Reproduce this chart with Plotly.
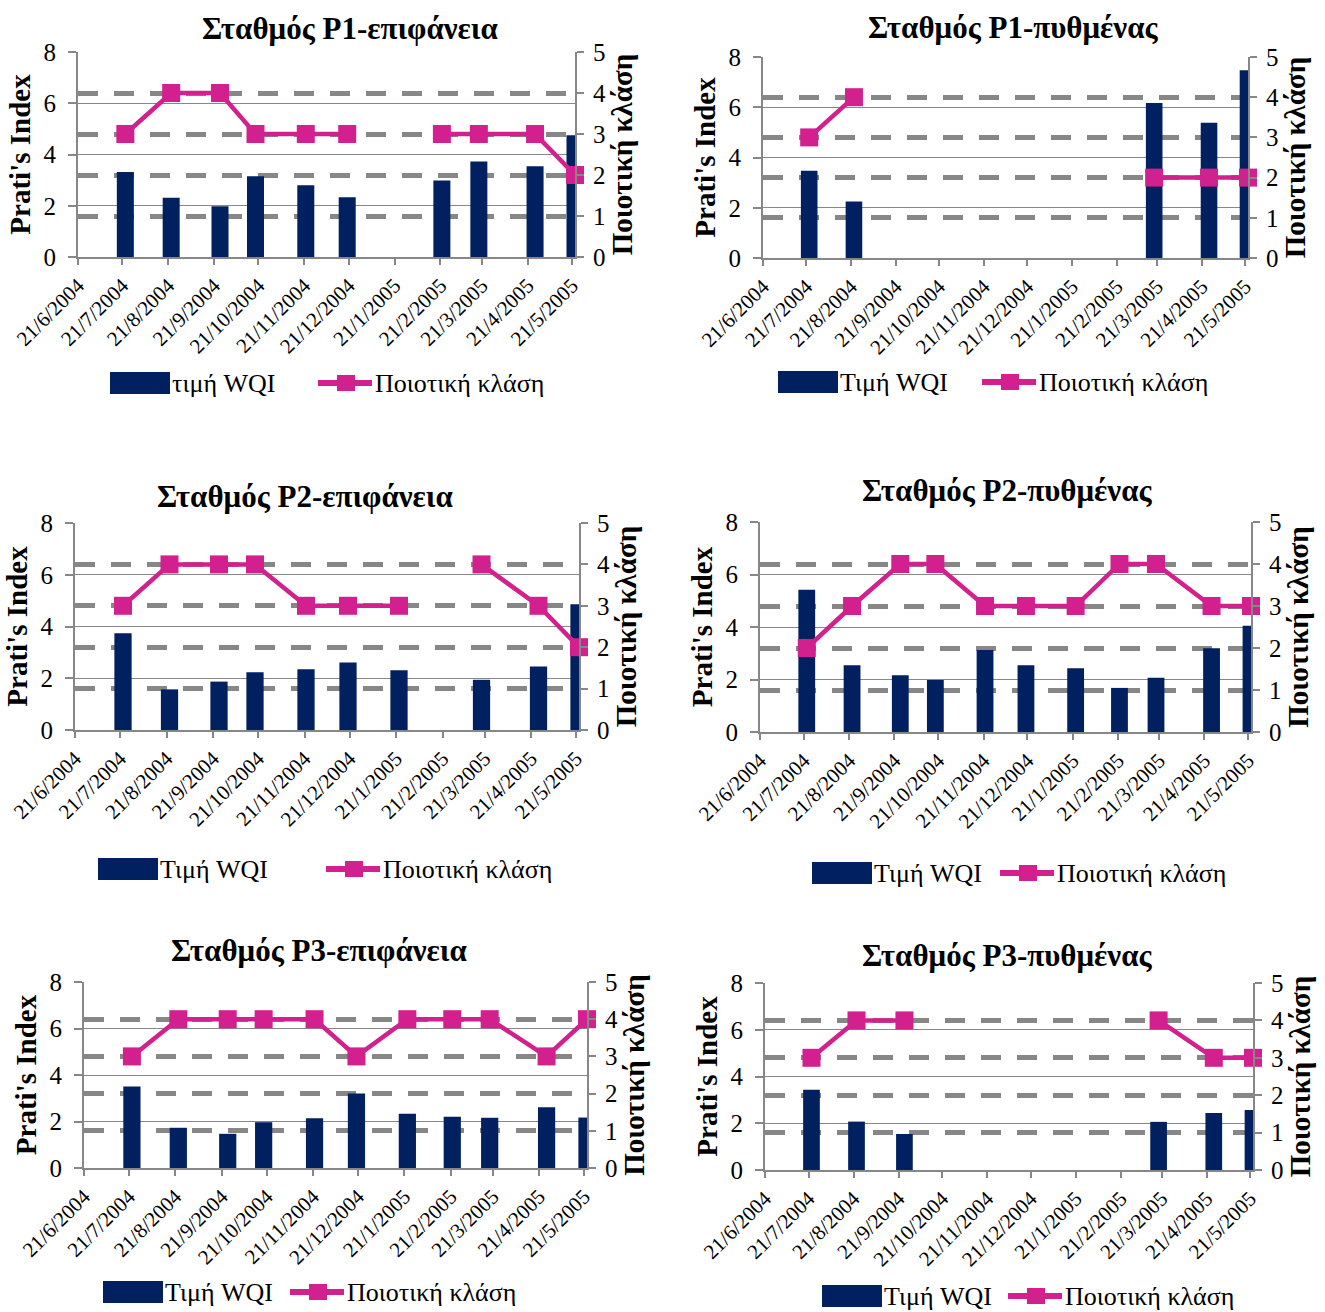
import plotly.graph_objects as go

# Sampling dates shared by all stations (one sampling campaign per month)
sample_dates = ["2004-07-23", "2004-08-23", "2004-09-25", "2004-10-19", "2004-11-22",
                "2004-12-20", "2005-01-23", "2005-02-22", "2005-03-19", "2005-04-26",
                "2005-05-23"]

# Monthly date ticks
tick_dates = ["2004-06-21", "2004-07-21", "2004-08-21", "2004-09-21", "2004-10-21",
              "2004-11-21", "2004-12-21", "2005-01-21", "2005-02-21", "2005-03-21",
              "2005-04-21", "2005-05-21"]
tick_labels = ["21/6/2004", "21/7/2004", "21/8/2004", "21/9/2004", "21/10/2004",
               "21/11/2004", "21/12/2004", "21/1/2005", "21/2/2005", "21/3/2005",
               "21/4/2005", "21/5/2005"]

panel_titles = ["Σταθμός P1-επιφάνεια", "Σταθμός P1-πυθμένας",
                "Σταθμός P2-επιφάνεια", "Σταθμός P2-πυθμένας",
                "Σταθμός P3-επιφάνεια", "Σταθμός P3-πυθμένας"]
bar_names = ["τιμή WQI", "Τιμή WQI", "Τιμή WQI", "Τιμή WQI", "Τιμή WQI", "Τιμή WQI"]
line_name = "Ποιοτική κλάση"

# Prati's index (WQI) per station
wqi_p1_surface = [3.32, 2.31, 1.98, 3.15, 2.80, 2.33, None, 2.99, 3.73, 3.54, 4.75]
wqi_p1_bottom = [3.47, 2.25, None, None, None, None, None, None, 6.17, 5.38, 7.47]
wqi_p2_surface = [3.74, 1.57, 1.87, 2.23, 2.35, 2.61, 2.31, None, 1.94, 2.45, 4.86]
wqi_p2_bottom = [5.42, 2.54, 2.16, 1.98, 3.12, 2.54, 2.43, 1.68, 2.07, 3.19, 4.05]
wqi_p3_surface = [3.50, 1.73, 1.47, 1.97, 2.14, 3.20, 2.33, 2.20, 2.16, 2.61, 2.17]
wqi_p3_bottom = [3.43, 2.07, 1.54, None, None, None, None, None, 2.06, 2.44, 2.57]

# Water quality class per station
class_p1_surface = [3, 4, 4, 3, 3, 3, None, 3, 3, 3, 2]
class_p1_bottom = [3, 4, None, None, None, None, None, None, 2, 2, 2]
class_p2_surface = [3, 4, 4, 4, 3, 3, 3, None, 4, 3, 2]
class_p2_bottom = [2, 3, 4, 4, 3, 3, 3, 4, 4, 3, 3]
class_p3_surface = [3, 4, 4, 4, 4, 3, 4, 4, 4, 3, 4]
class_p3_bottom = [3, 4, 4, None, None, None, None, None, 4, 3, 3]

wqi_series = [wqi_p1_surface, wqi_p1_bottom, wqi_p2_surface,
              wqi_p2_bottom, wqi_p3_surface, wqi_p3_bottom]
class_series = [class_p1_surface, class_p1_bottom, class_p2_surface,
                class_p2_bottom, class_p3_surface, class_p3_bottom]

# ---- styling / layout ----
W, H = 1325, 1312
NAVY = "#002060"
MAGENTA = "#D2208E"
GRID = "#878787"
FONT = "Liberation Serif"

# plot-area boxes in pixels: (left, right, top, bottom)
boxes = [(78, 575, 52, 257), (763, 1248, 57, 258),
         (75, 579, 523, 730), (760, 1251, 522, 732),
         (84, 587, 982, 1168), (765, 1253, 983, 1170)]
title_pos = [(350, 28), (1013, 27), (305, 497), (1007, 490), (319, 950), (1007, 955)]
# legend: (rect_left, text_y, line_left)
legend_pos = [(110, 383, 318), (778, 382, 982), (98, 869, 326),
              (812, 873, 1000), (103, 1292, 290), (822, 1296, 1008)]

BAR_WIDTH_MS = 11.5 * 24 * 3600 * 1000


def fx(px):
    return px / W


def fy(py):
    return 1 - py / H


fig = go.Figure()
layout = dict(width=W, height=H, margin=dict(l=0, r=0, t=0, b=0, autoexpand=False),
              paper_bgcolor="white", plot_bgcolor="white", showlegend=False,
              font=dict(family=FONT, color="black"))
shapes, annotations = [], []

for i in range(6):
    xn = "" if i == 0 else str(i + 1)
    yl = "" if i == 0 else str(2 * i + 1)
    yr = str(2 * i + 2)
    left, right, top, bottom = boxes[i]

    fig.add_trace(go.Bar(x=sample_dates, y=wqi_series[i], width=BAR_WIDTH_MS,
                         marker=dict(color=NAVY, line=dict(width=0)),
                         name=bar_names[i], xaxis="x" + xn, yaxis="y" + yl))
    fig.add_trace(go.Scatter(x=sample_dates, y=class_series[i], mode="lines+markers",
                             line=dict(color=MAGENTA, width=4.5),
                             marker=dict(symbol="square", size=18, color=MAGENTA),
                             connectgaps=False, cliponaxis=False,
                             name=line_name, xaxis="x" + xn, yaxis="y" + yr))

    layout["xaxis" + xn] = dict(
        domain=[fx(left), fx(right)], anchor="y" + yl, type="date", automargin=False,
        range=["2004-06-21", "2005-05-23"], tickvals=tick_dates, ticktext=tick_labels,
        tickangle=-45, tickfont=dict(size=21, family=FONT), showgrid=False,
        showline=True, linecolor=GRID, linewidth=2, ticks="outside", ticklen=6,
        tickcolor=GRID, tickwidth=1.5, zeroline=False)
    layout["yaxis" + yl] = dict(
        domain=[fy(bottom), fy(top)], anchor="x" + xn, range=[0, 8], dtick=2,
        automargin=False, ticklabelstandoff=7,
        tickfont=dict(size=25, family=FONT), showgrid=True, gridcolor=GRID, gridwidth=1.3,
        showline=True, linecolor=GRID, linewidth=2, ticks="outside", ticklen=8,
        tickcolor=GRID, tickwidth=1.5, zeroline=False,
        title=dict(text="Prati's Index", font=dict(size=29, family=FONT, weight="bold"),
                   standoff=4))
    layout["yaxis" + yr] = dict(
        domain=[fy(bottom), fy(top)], anchor="x" + xn, overlaying="y" + yl, side="right",
        automargin=False, ticklabelstandoff=4,
        range=[0, 5], dtick=1, tickfont=dict(size=25, family=FONT), showgrid=True,
        gridcolor=GRID, gridwidth=4.5, griddash="20px,16px",
        showline=True, linecolor=GRID, linewidth=2, ticks="outside", ticklen=7,
        tickcolor=GRID, tickwidth=1.5, zeroline=False,
        title=dict(text="Ποιοτική κλάση", font=dict(size=29, family=FONT, weight="bold"),
                   standoff=6))

    tx, ty = title_pos[i]
    annotations.append(dict(text="<b>" + panel_titles[i] + "</b>", x=fx(tx), y=fy(ty),
                            xref="paper", yref="paper", xanchor="center", yanchor="middle",
                            showarrow=False, font=dict(size=31, family=FONT)))

    # legend drawn beneath each panel
    rx, ly, lx = legend_pos[i]
    shapes.append(dict(type="rect", xref="paper", yref="paper",
                       x0=fx(rx), x1=fx(rx + 60), y0=fy(ly + 11), y1=fy(ly - 11),
                       fillcolor=NAVY, line=dict(width=0)))
    annotations.append(dict(text=bar_names[i], x=fx(rx + 60), y=fy(ly), xref="paper",
                            yref="paper", xanchor="left", yanchor="middle", showarrow=False,
                            font=dict(size=26, family=FONT)))
    shapes.append(dict(type="line", xref="paper", yref="paper",
                       x0=fx(lx), x1=fx(lx + 54), y0=fy(ly), y1=fy(ly),
                       line=dict(color=MAGENTA, width=6)))
    shapes.append(dict(type="rect", xref="paper", yref="paper",
                       x0=fx(lx + 19), x1=fx(lx + 37), y0=fy(ly + 8), y1=fy(ly - 8),
                       fillcolor=MAGENTA, line=dict(width=0)))
    annotations.append(dict(text=line_name, x=fx(lx + 55), y=fy(ly), xref="paper",
                            yref="paper", xanchor="left", yanchor="middle", showarrow=False,
                            font=dict(size=26, family=FONT)))

layout["shapes"] = shapes
layout["annotations"] = annotations
fig.update_layout(**layout)
fig.write_html("out.html")
